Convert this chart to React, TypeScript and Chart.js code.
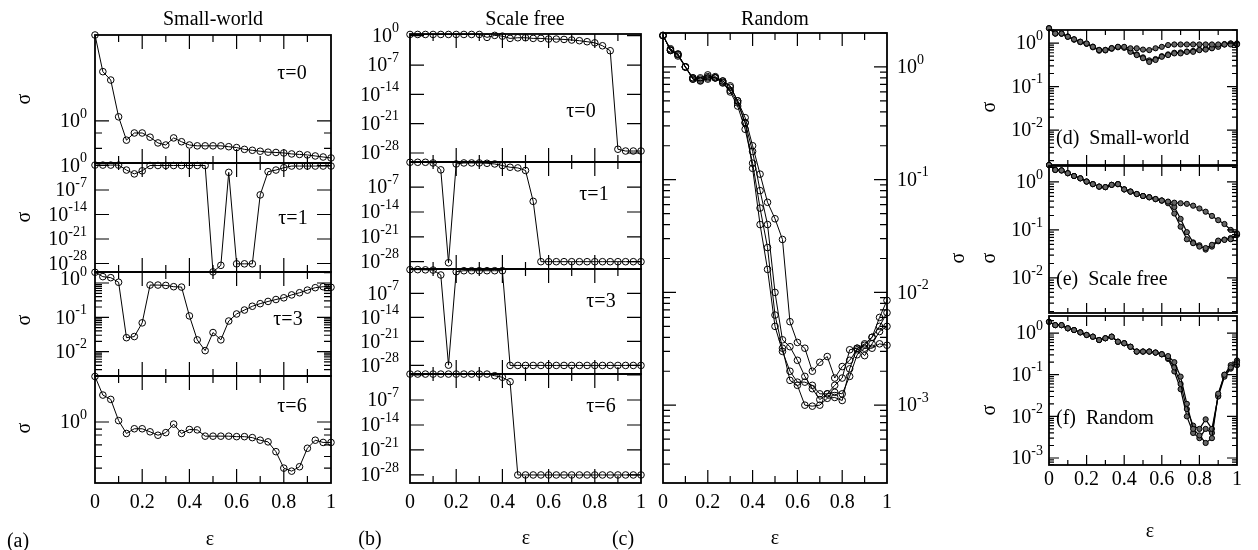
import React, { useEffect, useRef } from "react";
import { Chart, registerables } from "chart.js";
Chart.register(...registerables);

const FONT = '"Liberation Serif", "Times New Roman", Times, serif';

// coupling strength epsilon (31 points)
const EPS = [0, 0.0333, 0.0667, 0.1, 0.1333, 0.1667, 0.2, 0.2333, 0.2667, 0.3, 0.3333, 0.3667, 0.4, 0.4333, 0.4667, 0.5, 0.5333, 0.5667, 0.6, 0.6333, 0.6667, 0.7, 0.7333, 0.7667, 0.8, 0.8333, 0.8667, 0.9, 0.9333, 0.9667, 1];
const X_TICK_LABELS = ["0", "0.2", "0.4", "0.6", "0.8", "1"];
const X_TICK_VALUES = [0, 0.2, 0.4, 0.6, 0.8, 1];

// (a) Small-world
const SW_TAU0 = [4.94, 2.5, 2.14, 1.08, 0.7, 0.8, 0.8, 0.74, 0.665, 0.64, 0.73, 0.68, 0.64, 0.63, 0.63, 0.63, 0.63, 0.62, 0.61, 0.59, 0.58, 0.57, 0.56, 0.557, 0.552, 0.542, 0.537, 0.532, 0.522, 0.512, 0.503];
const SW_TAU1 = [1.3, 1.3, 1.3, 1.3, 0.05, 0.004, 0.03, 1, 1, 1, 1, 1, 1, 1, 1, 4e-31, 3e-29, 0.011, 8e-29, 8e-29, 8e-29, 4e-9, 0.017, 0.05, 0.23, 0.7, 0.7, 0.7, 0.7, 0.7, 0.7];
const SW_TAU3 = [2.05, 1.53, 1.43, 1.05, 0.0255, 0.0275, 0.069, 0.87, 0.87, 0.85, 0.78, 0.76, 0.11, 0.022, 0.0107, 0.036, 0.022, 0.078, 0.125, 0.163, 0.21, 0.25, 0.29, 0.33, 0.37, 0.45, 0.52, 0.62, 0.73, 0.78, 0.75];
const SW_TAU6 = [4.9, 2.56, 2.2, 1.05, 0.67, 0.79, 0.79, 0.71, 0.63, 0.69, 0.93, 0.67, 0.77, 0.76, 0.61, 0.61, 0.61, 0.61, 0.6, 0.6, 0.58, 0.53, 0.5, 0.355, 0.2, 0.18, 0.21, 0.4, 0.53, 0.49, 0.49];

// (b) Scale free
const SF_TAU0 = [2, 2, 2, 2, 2, 2, 2, 2, 2, 2, 0.4, 1.2, 0.8, 0.23, 0.33, 0.33, 0.23, 0.23, 0.16, 0.16, 0.13, 0.094, 0.065, 0.037, 0.02, 0.004, 2.6e-4, 8e-28, 3e-28, 3e-28, 3e-28];
const SF_TAU1 = [1, 1, 1, 0.65, 0.0074, 5e-29, 0.34, 0.65, 0.65, 0.65, 0.52, 0.34, 0.12, 0.04, 0.026, 0.005, 1e-11, 1e-28, 1e-28, 1e-28, 1e-28, 1e-28, 1e-28, 1e-28, 1e-28, 1e-28, 1e-28, 1e-28, 1e-28, 1e-28, 1e-28];
const SF_TAU3 = [0.8, 0.8, 0.7, 0.6, 0.022, 1.2e-28, 0.2, 0.39, 0.39, 0.39, 0.39, 0.39, 0.39, 1e-28, 1e-28, 1e-28, 1e-28, 1e-28, 1e-28, 1e-28, 1e-28, 1e-28, 1e-28, 1e-28, 1e-28, 1e-28, 1e-28, 1e-28, 1e-28, 1e-28, 1e-28];
const SF_TAU6 = [1.8, 1.8, 1.8, 1.8, 1.8, 1.8, 1.8, 1.8, 1.8, 1.8, 1.8, 0.63, 0.23, 0.013, 1e-28, 1e-28, 1e-28, 1e-28, 1e-28, 1e-28, 1e-28, 1e-28, 1e-28, 1e-28, 1e-28, 1e-28, 1e-28, 1e-28, 1e-28, 1e-28, 1e-28];

// (c) Random
const RND_1 = [1.9, 1.4, 1.25, 1.0, 0.78, 0.75, 0.8, 0.82, 0.75, 0.66, 0.5, 0.355, 0.2, 0.112, 0.063, 0.045, 0.0295, 0.0055, 0.0036, 0.0032, 0.002, 0.0024, 0.0027, 0.00174, 0.0022, 0.0025, 0.0031, 0.0034, 0.004, 0.006, 0.0085];
const RND_2 = [1.9, 1.45, 1.3, 1.0, 0.8, 0.78, 0.82, 0.8, 0.72, 0.6, 0.45, 0.28, 0.14, 0.056, 0.025, 0.0063, 0.0032, 0.00166, 0.0015, 0.001, 0.00098, 0.001, 0.00115, 0.00117, 0.0011, 0.0021, 0.0032, 0.0035, 0.004, 0.005, 0.0066];
const RND_3 = [1.9, 1.4, 1.3, 1.0, 0.8, 0.8, 0.85, 0.8, 0.75, 0.68, 0.5, 0.32, 0.126, 0.04, 0.016, 0.005, 0.003, 0.002, 0.0016, 0.0016, 0.0015, 0.00126, 0.00126, 0.0015, 0.00174, 0.0031, 0.0032, 0.00275, 0.0035, 0.0045, 0.005];
const RND_4 = [1.9, 1.42, 1.28, 1.0, 0.78, 0.76, 0.78, 0.8, 0.73, 0.62, 0.48, 0.32, 0.178, 0.08, 0.04, 0.01, 0.0038, 0.0033, 0.0025, 0.0018, 0.0014, 0.00112, 0.00126, 0.0013, 0.00126, 0.0018, 0.0028, 0.0032, 0.0032, 0.0035, 0.0034];

// (d) Small-world, (e) Scale free, (f) Random
const D_1 = [2.19, 1.66, 1.66, 1.4, 1.22, 1.07, 0.98, 0.82, 0.69, 0.69, 0.76, 0.82, 0.82, 0.76, 0.76, 0.71, 0.69, 0.76, 0.82, 0.9, 0.93, 0.93, 0.93, 0.93, 0.93, 0.93, 0.93, 0.93, 0.93, 0.93, 0.93];
const D_2 = [2.19, 1.66, 1.64, 1.4, 1.2, 1.05, 0.96, 0.8, 0.67, 0.68, 0.74, 0.8, 0.78, 0.63, 0.53, 0.45, 0.37, 0.41, 0.485, 0.53, 0.58, 0.58, 0.63, 0.63, 0.69, 0.71, 0.76, 0.82, 0.93, 0.98, 0.98];
const D_3 = [2.19, 1.66, 1.66, 1.42, 1.22, 1.08, 0.98, 0.83, 0.7, 0.7, 0.77, 0.82, 0.8, 0.66, 0.55, 0.47, 0.4, 0.43, 0.5, 0.55, 0.6, 0.61, 0.64, 0.66, 0.7, 0.74, 0.78, 0.86, 0.95, 0.98, 0.96];
const E_1 = [2.26, 1.78, 1.74, 1.52, 1.33, 1.19, 1.02, 0.9, 0.8, 0.78, 0.87, 0.9, 0.7, 0.63, 0.56, 0.51, 0.48, 0.44, 0.41, 0.39, 0.37, 0.36, 0.35, 0.32, 0.28, 0.24, 0.196, 0.16, 0.133, 0.1, 0.085];
const E_2 = [2.26, 1.78, 1.74, 1.52, 1.33, 1.19, 1.02, 0.9, 0.8, 0.78, 0.87, 0.9, 0.7, 0.63, 0.56, 0.51, 0.48, 0.44, 0.41, 0.36, 0.22, 0.117, 0.064, 0.053, 0.045, 0.042, 0.049, 0.06, 0.062, 0.064, 0.079];
const E_3 = [2.26, 1.78, 1.74, 1.52, 1.33, 1.19, 1.02, 0.9, 0.8, 0.78, 0.87, 0.9, 0.7, 0.63, 0.56, 0.51, 0.48, 0.44, 0.41, 0.38, 0.3, 0.17, 0.09, 0.055, 0.048, 0.039, 0.045, 0.058, 0.063, 0.068, 0.08];
const F_1 = [1.87, 1.55, 1.55, 1.3, 1.18, 1.04, 0.9, 0.82, 0.68, 0.75, 0.82, 0.62, 0.57, 0.47, 0.36, 0.36, 0.36, 0.34, 0.31, 0.28, 0.2, 0.09, 0.02, 0.005, 0.0035, 0.0023, 0.003, 0.035, 0.1, 0.15, 0.2];
const F_2 = [1.87, 1.55, 1.55, 1.3, 1.18, 1.04, 0.9, 0.82, 0.68, 0.75, 0.82, 0.62, 0.57, 0.47, 0.36, 0.36, 0.36, 0.34, 0.31, 0.25, 0.15, 0.06, 0.015, 0.006, 0.005, 0.0085, 0.005, 0.03, 0.09, 0.14, 0.17];
const F_3 = [1.87, 1.55, 1.55, 1.3, 1.18, 1.04, 0.9, 0.82, 0.68, 0.75, 0.82, 0.62, 0.57, 0.47, 0.36, 0.36, 0.36, 0.34, 0.31, 0.24, 0.12, 0.045, 0.01, 0.004, 0.003, 0.005, 0.004, 0.032, 0.1, 0.17, 0.22];

type Lab = { v: number; exp: string; dy?: number };
type Cfg = {
  left: number; top: number; w: number; h: number;
  yMin: number; yMax: number;
  labels: Lab[]; side: "left" | "right"; gap: number;
  yMajor: number[]; yMinor: number[];
  xLabels: boolean; xPad?: number;
  tl: [number, number];
  series: number[][];
  filled?: boolean;
};

function logMinors(lo: number, hi: number): number[] {
  const out: number[] = [];
  for (let e = lo; e < hi; e++) for (let m = 2; m <= 9; m++) out.push(m * Math.pow(10, e));
  return out;
}

const L0 = { v: 1, exp: "0" };
const BIG = [{ v: 1e-7, exp: "-7" }, { v: 1e-14, exp: "-14" }, { v: 1e-21, exp: "-21" }, { v: 1e-28, exp: "-28" }];
const BIG_MAJ = [1, 1e-7, 1e-14, 1e-21, 1e-28];

const AX = 95, AW = 236, BX = 410, BW = 231, CX = 663, CW = 224, DX = 1049, DW = 188;

const PANELS: Cfg[] = [
  // (a)
  { left: AX, top: 35, w: AW, h: 128, yMin: 0.458, yMax: 4.94, labels: [L0], side: "left", gap: 8, yMajor: [1], yMinor: [0.8, 0.6], xLabels: false, tl: [14, 7], series: [SW_TAU0] },
  { left: AX, top: 163, w: AW, h: 109, yMin: 3.7e-31, yMax: 5.18, labels: [L0, ...BIG], side: "left", gap: 8, yMajor: BIG_MAJ, yMinor: [], xLabels: false, tl: [14, 7], series: [SW_TAU1] },
  { left: AX, top: 272, w: AW, h: 104, yMin: 0.00195, yMax: 2.09, labels: [{ v: 1, exp: "0", dy: -4 }, { v: 0.1, exp: "-1" }, { v: 0.01, exp: "-2" }], side: "left", gap: 8, yMajor: [1, 0.1, 0.01], yMinor: logMinors(-3, 1), xLabels: false, tl: [14, 7], series: [SW_TAU3] },
  { left: AX, top: 376, w: AW, h: 107, yMin: 0.119, yMax: 4.98, labels: [L0], side: "left", gap: 8, yMajor: [1], yMinor: [0.78, 0.635, 0.45, 0.3, 0.2], xLabels: true, xPad: 8, tl: [14, 7], series: [SW_TAU6] },
  // (b)
  { left: BX, top: 34, w: BW, h: 128, yMin: 7.2e-31, yMax: 2.57, labels: [L0, ...BIG], side: "left", gap: 11, yMajor: BIG_MAJ, yMinor: [], xLabels: false, tl: [14, 7], series: [SF_TAU0] },
  { left: BX, top: 162, w: BW, h: 107, yMin: 8.7e-31, yMax: 1.2, labels: BIG, side: "left", gap: 11, yMajor: BIG_MAJ, yMinor: [], xLabels: false, tl: [14, 7], series: [SF_TAU1] },
  { left: BX, top: 269, w: BW, h: 105, yMin: 3.2e-31, yMax: 1.23, labels: BIG, side: "left", gap: 11, yMajor: BIG_MAJ, yMinor: [], xLabels: false, tl: [14, 7], series: [SF_TAU3] },
  { left: BX, top: 374, w: BW, h: 109, yMin: 5.6e-31, yMax: 1.9, labels: BIG, side: "left", gap: 11, yMajor: BIG_MAJ, yMinor: [], xLabels: true, xPad: 8, tl: [14, 7], series: [SF_TAU6] },
  // (c)
  { left: CX, top: 33, w: CW, h: 450, yMin: 2.04e-4, yMax: 2.0, labels: [L0, { v: 0.1, exp: "-1" }, { v: 0.01, exp: "-2" }, { v: 0.001, exp: "-3" }], side: "right", gap: 10, yMajor: [1, 0.1, 0.01, 0.001], yMinor: logMinors(-4, 1), xLabels: true, xPad: 8, tl: [13, 7], series: [RND_1, RND_2, RND_3, RND_4] },
  // (d)-(f)
  { left: DX, top: 30, w: DW, h: 135, yMin: 1.58e-3, yMax: 2.0, labels: [L0, { v: 0.1, exp: "-1" }, { v: 0.01, exp: "-2" }], side: "left", gap: 6, yMajor: [1, 0.1, 0.01], yMinor: logMinors(-3, 1), xLabels: false, tl: [10, 5], series: [D_1, D_2, D_3], filled: true },
  { left: DX, top: 166, w: DW, h: 147, yMin: 1.86e-3, yMax: 2.15, labels: [L0, { v: 0.1, exp: "-1" }, { v: 0.01, exp: "-2" }], side: "left", gap: 6, yMajor: [1, 0.1, 0.01], yMinor: logMinors(-3, 1), xLabels: false, tl: [10, 5], series: [E_1, E_2, E_3], filled: true },
  { left: DX, top: 316, w: DW, h: 149, yMin: 6.8e-4, yMax: 2.57, labels: [L0, { v: 0.1, exp: "-1" }, { v: 0.01, exp: "-2" }, { v: 0.001, exp: "-3" }], side: "left", gap: 6, yMajor: [1, 0.1, 0.01, 0.001], yMinor: logMinors(-4, 1), xLabels: true, xPad: 3, tl: [10, 5], series: [F_1, F_2, F_3], filled: true },
];

const X_MAJOR = [0.2, 0.4, 0.6, 0.8];
const X_MINOR = [0.1, 0.3, 0.5, 0.7, 0.9];

function Subplot({ cfg }: { cfg: Cfg }) {
  const ref = useRef<HTMLCanvasElement>(null);
  const PL = 100, PR = cfg.side === "right" ? 80 : 16, PT = 16, PB = cfg.xLabels ? 46 : 16;
  const cw = cfg.w + PL + PR, ch = cfg.h + PT + PB;
  useEffect(() => {
    const canvas = ref.current;
    if (!canvas) return;
    const plugin = {
      id: "frameTicks",
      afterDraw(chart: any) {
        const ctx = chart.ctx;
        const a = chart.chartArea;
        const xs = chart.scales.x;
        const ys = chart.scales.y;
        ctx.save();
        ctx.strokeStyle = "#000";
        ctx.lineWidth = 1.2;
        const [LM, Lm] = cfg.tl;
        const vline = (px: number, L: number) => {
          ctx.beginPath();
          ctx.moveTo(px, a.bottom); ctx.lineTo(px, a.bottom - L);
          ctx.moveTo(px, a.top); ctx.lineTo(px, a.top + L);
          ctx.stroke();
        };
        X_MAJOR.forEach((v) => vline(xs.getPixelForValue(v), LM));
        X_MINOR.forEach((v) => vline(xs.getPixelForValue(v), Lm));
        const hline = (v: number, L: number) => {
          if (v < cfg.yMin || v > cfg.yMax) return;
          const py = ys.getPixelForValue(v);
          ctx.beginPath();
          ctx.moveTo(a.left, py); ctx.lineTo(a.left + L, py);
          ctx.moveTo(a.right, py); ctx.lineTo(a.right - L, py);
          ctx.stroke();
        };
        cfg.yMajor.forEach((v) => hline(v, LM));
        cfg.yMinor.forEach((v) => hline(v, Lm));
        ctx.lineWidth = 1.8;
        ctx.strokeRect(a.left, a.top, a.right - a.left, a.bottom - a.top);
        ctx.fillStyle = "#000";
        ctx.textBaseline = "middle";
        ctx.textAlign = "left";
        cfg.labels.forEach((lab) => {
          const py = ys.getPixelForValue(lab.v) + (lab.dy || 0);
          ctx.font = `20px ${FONT}`;
          const w1 = ctx.measureText("10").width;
          ctx.font = `14px ${FONT}`;
          const w2 = ctx.measureText(lab.exp).width;
          const x0 = cfg.side === "left" ? a.left - cfg.gap - w1 - w2 : a.right + cfg.gap;
          ctx.font = `20px ${FONT}`;
          ctx.fillText("10", x0, py + 1);
          ctx.font = `14px ${FONT}`;
          ctx.fillText(lab.exp, x0 + w1, py - 7);
        });
        ctx.restore();
      },
    };
    const chart = new Chart(canvas, {
      type: "line",
      data: {
        datasets: cfg.series.map((s) => ({
          data: s.map((v, i) => ({ x: EPS[i], y: v })),
          borderColor: "#000",
          borderWidth: cfg.filled ? 1.2 : 1,
          pointRadius: cfg.filled ? 2.6 : 3.3,
          pointBorderColor: "#000",
          pointBorderWidth: 1,
          pointBackgroundColor: cfg.filled ? "#666" : "rgba(255,255,255,0)",
          tension: 0,
          clip: false as any,
          fill: false,
        })),
      },
      options: {
        animation: false,
        responsive: false,
        maintainAspectRatio: false,
        devicePixelRatio: 1,
        events: [],
        layout: { padding: { left: PL, right: PR, top: PT, bottom: cfg.xLabels ? 0 : PB } },
        plugins: { legend: { display: false }, tooltip: { enabled: false } },
        scales: {
          x: {
            type: "linear",
            min: 0,
            max: 1,
            display: cfg.xLabels,
            grid: { display: false, drawTicks: false },
            border: { display: false },
            afterBuildTicks: (s: any) => { s.ticks = X_TICK_VALUES.map((v) => ({ value: v })); },
            afterFit: (s: any) => { s.height = cfg.xLabels ? PB : 0; },
            ticks: {
              autoSkip: false,
              maxRotation: 0,
              padding: cfg.xPad || 8,
              color: "#000",
              font: { family: FONT, size: 20 },
              callback: (_v: any, i: number) => X_TICK_LABELS[i],
            },
          },
          y: { type: "logarithmic", min: cfg.yMin, max: cfg.yMax, display: false, afterFit: (s: any) => { s.width = 0; } },
        },
      } as any,
      plugins: [plugin],
    });
    return () => chart.destroy();
  }, []);
  return (
    <canvas
      ref={ref}
      width={cw}
      height={ch}
      style={{ position: "absolute", left: cfg.left - PL, top: cfg.top - PT, width: cw, height: ch }}
    />
  );
}

function Txt({ x, y, children, rot, align }: { x: number; y: number; children: any; rot?: boolean; align?: "left" | "center" }) {
  const tx = align === "left" ? "translate(0,-50%)" : "translate(-50%,-50%)";
  return (
    <div
      style={{
        position: "absolute", left: x, top: y, fontFamily: FONT, fontSize: 20, lineHeight: 1,
        color: "#000", whiteSpace: "pre", transform: tx + (rot ? " rotate(-90deg)" : ""),
      }}
    >
      {children}
    </div>
  );
}

export default function App() {
  return (
    <div style={{ position: "absolute", left: 0, top: 0, width: 1258, height: 550, background: "#fff", overflow: "hidden" }}>
      {PANELS.map((p, i) => <Subplot key={i} cfg={p} />)}
      <Txt x={213} y={18}>Small-world</Txt>
      <Txt x={525} y={18}>Scale free</Txt>
      <Txt x={775} y={18}>Random</Txt>
      <Txt x={23} y={99} rot>σ</Txt>
      <Txt x={23} y={217} rot>σ</Txt>
      <Txt x={23} y={320} rot>σ</Txt>
      <Txt x={23} y={428} rot>σ</Txt>
      <Txt x={957} y={258} rot>σ</Txt>
      <Txt x={988} y={107} rot>σ</Txt>
      <Txt x={988} y={258} rot>σ</Txt>
      <Txt x={988} y={410} rot>σ</Txt>
      <Txt x={292} y={72}>τ=0</Txt>
      <Txt x={293} y={217}>τ=1</Txt>
      <Txt x={288} y={318}>τ=3</Txt>
      <Txt x={292} y={405}>τ=6</Txt>
      <Txt x={581} y={110}>τ=0</Txt>
      <Txt x={594} y={193}>τ=1</Txt>
      <Txt x={601} y={300}>τ=3</Txt>
      <Txt x={601} y={405}>τ=6</Txt>
      <Txt x={210} y={538}>ε</Txt>
      <Txt x={526} y={537}>ε</Txt>
      <Txt x={775} y={537}>ε</Txt>
      <Txt x={1150} y={530}>ε</Txt>
      <Txt x={18} y={540}>(a)</Txt>
      <Txt x={370} y={538}>(b)</Txt>
      <Txt x={623} y={538}>(c)</Txt>
      <Txt x={1056} y={137} align="left">{"(d)  Small-world"}</Txt>
      <Txt x={1056} y={278} align="left">{"(e)  Scale free"}</Txt>
      <Txt x={1056} y={417} align="left">{"(f)  Random"}</Txt>
    </div>
  );
}
